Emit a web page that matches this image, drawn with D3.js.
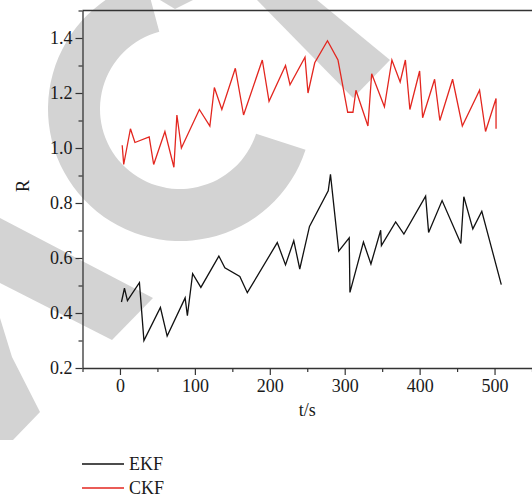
<!DOCTYPE html>
<html>
<head>
<meta charset="utf-8">
<script src="https://cdn.jsdelivr.net/npm/d3@7"></script>
<style>
  body { margin: 0; background: #fff; }
  #chart text { font-family: 'Liberation Serif', 'Times New Roman', serif !important; font-size: 18px !important; fill: #1a1a1a; }
</style>
</head>
<body>
<svg id="chart" width="532" height="501"></svg>
<script>
// time (s) and R values
const ekfT = [2, 6, 10, 26, 32, 54, 63, 87, 90, 97, 108, 132, 140, 160, 170, 210, 221, 232, 240, 253, 278, 281, 292, 306, 307, 325, 335, 348, 349, 368, 379, 408, 412, 430, 455, 459, 471, 483, 509];
const ekfR = [0.44, 0.49, 0.445, 0.51, 0.30, 0.42, 0.316, 0.455, 0.39, 0.543, 0.493, 0.607, 0.564, 0.533, 0.474, 0.656, 0.575, 0.663, 0.56, 0.715, 0.844, 0.904, 0.625, 0.673, 0.475, 0.658, 0.578, 0.701, 0.645, 0.731, 0.687, 0.825, 0.693, 0.809, 0.653, 0.823, 0.706, 0.770, 0.503];
const ckfT = [3, 5, 14, 20, 39, 45, 60, 72, 76, 82, 106, 120, 126, 136, 154, 165, 190, 199, 221, 227, 247, 251, 260, 277, 291, 304, 311, 315, 331, 336, 353, 363, 374, 381, 387, 400, 404, 420, 427, 444, 457, 480, 488, 502, 502];
const ckfR = [1.01, 0.94, 1.07, 1.02, 1.04, 0.94, 1.06, 0.93, 1.12, 1.00, 1.14, 1.08, 1.22, 1.14, 1.29, 1.12, 1.32, 1.17, 1.30, 1.23, 1.33, 1.20, 1.31, 1.39, 1.32, 1.13, 1.13, 1.21, 1.08, 1.27, 1.15, 1.32, 1.24, 1.32, 1.14, 1.28, 1.11, 1.25, 1.10, 1.25, 1.08, 1.21, 1.06, 1.18, 1.07];

const xTicks = [0, 100, 200, 300, 400, 500];
const yTicks = [0.2, 0.4, 0.6, 0.8, 1.0, 1.2, 1.4];
const seriesNames = ["EKF", "CKF"];
const seriesColors = ["#111111", "#e3261f"];

const svg = d3.select("#chart");
const margin = { top: 10.5, right: 0, bottom: 133, left: 82.5 };
const width = 532 - margin.left - margin.right;
const height = 501 - margin.top - margin.bottom;

// gray watermark behind the plot
const wm = svg.append("g").attr("fill", "#d3d3d3");
wm.append("path")
  .attr("transform", "translate(180,109)")
  .attr("d", d3.arc()({ innerRadius: 80, outerRadius: 132, startAngle: (108 * Math.PI) / 180, endAngle: (345 * Math.PI) / 180 }));
const shapes = [
  [[257, 0], [317, 0], [390, 60], [353, 98]],
  [[160, 0], [193, 0], [175, 9]],
  [[0, 218], [153, 298], [112, 340], [0, 283]],
  [[0, 318], [12, 357], [40, 412], [13, 440], [0, 440]]
];
shapes.forEach(p => wm.append("polygon").attr("points", p.join(" ")));

const g = svg.append("g").attr("transform", `translate(${margin.left},${margin.top})`);

const x = d3.scaleLinear().domain([-50, 550]).range([0, width]);
const y = d3.scaleLinear().domain([0.2, 1.5]).range([height, 0]);

// minor ticks
g.append("g")
  .attr("transform", `translate(0,${height})`)
  .call(d3.axisBottom(x).tickValues(d3.range(-50, 551, 100)).tickSize(4).tickFormat(""))
  .call(a => a.select(".domain").remove());
g.append("g")
  .call(d3.axisLeft(y).tickValues([0.3, 0.5, 0.7, 0.9, 1.1, 1.3, 1.5]).tickSize(4).tickFormat(""))
  .call(a => a.select(".domain").remove());

const xAxis = g.append("g")
  .attr("transform", `translate(0,${height})`)
  .call(d3.axisBottom(x).tickValues(xTicks).tickSize(7).tickSizeOuter(0).tickPadding(4));
const yAxis = g.append("g")
  .call(d3.axisLeft(y).tickValues(yTicks).tickSize(7).tickSizeOuter(0).tickPadding(3).tickFormat(d3.format(".1f")));

[xAxis, yAxis].forEach(a => {
  a.select(".domain").attr("stroke", "#333").attr("stroke-width", 1.3);
});
g.selectAll(".tick line").attr("stroke", "#333").attr("stroke-width", 1.2);

// top frame line
g.append("line")
  .attr("x1", 0).attr("x2", width)
  .attr("y1", 0).attr("y2", 0)
  .attr("stroke", "#333").attr("stroke-width", 1.3);

const line = d3.line().x(d => x(d[0])).y(d => y(d[1]));
const series = [d3.zip(ekfT, ekfR), d3.zip(ckfT, ckfR)];
series.forEach((s, i) => {
  g.append("path")
    .datum(s)
    .attr("fill", "none")
    .attr("stroke", seriesColors[i])
    .attr("stroke-width", 1.3)
    .attr("d", line);
});

svg.append("text")
  .attr("x", x(250) + margin.left)
  .attr("y", 416)
  .attr("text-anchor", "middle")
  .text("t/s");
svg.append("text")
  .attr("transform", "translate(29,186) rotate(-90)")
  .attr("text-anchor", "middle")
  .text("R");

const legend = svg.append("g");
seriesNames.forEach((name, i) => {
  const ly = 464 + i * 24;
  legend.append("line")
    .attr("x1", 82).attr("x2", 124)
    .attr("y1", ly).attr("y2", ly)
    .attr("stroke", seriesColors[i])
    .attr("stroke-width", 1.3);
  legend.append("text")
    .attr("x", 129)
    .attr("y", ly + 6)
    .text(name);
});
</script>
</body>
</html>
